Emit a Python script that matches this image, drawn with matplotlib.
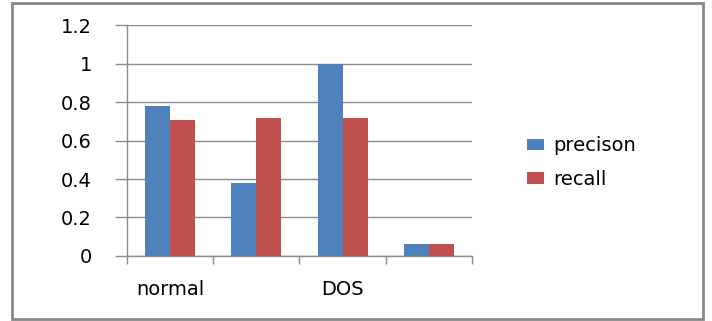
import matplotlib
matplotlib.use("Agg")
import matplotlib.pyplot as plt
import numpy as np
from matplotlib.patches import Rectangle

# values
tick_labels = ["normal", "", "DOS", ""]
precision = [0.78, 0.38, 1.0, 0.06]
recall = [0.705, 0.715, 0.715, 0.06]

blue = "#4F81BD"
red = "#C0504D"
grid_col = "#8C8C8C"

fig = plt.figure(figsize=(7.12, 3.21), dpi=100)
ax = fig.add_axes([0.178, 0.2025, 0.485, 0.7196])

x = np.arange(len(tick_labels))
w = 0.29
ax.bar(x - w / 2, precision, w, color=blue, label="precison", zorder=3)
ax.bar(x + w / 2, recall, w, color=red, label="recall", zorder=3)

ax.set_xlim(-0.5, len(tick_labels) - 0.5)
ax.set_ylim(0, 1.2)
ax.set_yticks(np.arange(0, 1.21, 0.2))
ax.set_yticklabels(["0", "0.2", "0.4", "0.6", "0.8", "1", "1.2"])
ax.yaxis.grid(True, color=grid_col, linewidth=1, zorder=0)

# category labels in the middle, tick marks on the boundaries
ax.set_xticks(x)
ax.set_xticklabels(tick_labels)
ax.tick_params(axis="x", which="major", length=0, pad=17, labelsize=14)
ax.set_xticks(np.arange(-0.5, len(tick_labels)), minor=True)
ax.tick_params(axis="x", which="minor", length=6, color=grid_col, width=1)
ax.tick_params(axis="y", length=8.6, color=grid_col, width=1, pad=16.5, labelsize=14)

for s in ["top", "right"]:
    ax.spines[s].set_visible(False)
for s in ["left", "bottom"]:
    ax.spines[s].set_color(grid_col)
    ax.spines[s].set_linewidth(1)

fig.legend(loc="upper left", bbox_to_anchor=(0.74, 0.575), frameon=False,
           fontsize=14, handlelength=0.9, handleheight=0.55,
           handletextpad=0.45, labelspacing=0.75, borderpad=0, borderaxespad=0)

fig.patches.append(Rectangle((12 / 712, 2 / 321), 691 / 712, 316 / 321,
                             transform=fig.transFigure, fill=False,
                             edgecolor="#888888", linewidth=2))

fig.savefig("out.png", dpi=100)
